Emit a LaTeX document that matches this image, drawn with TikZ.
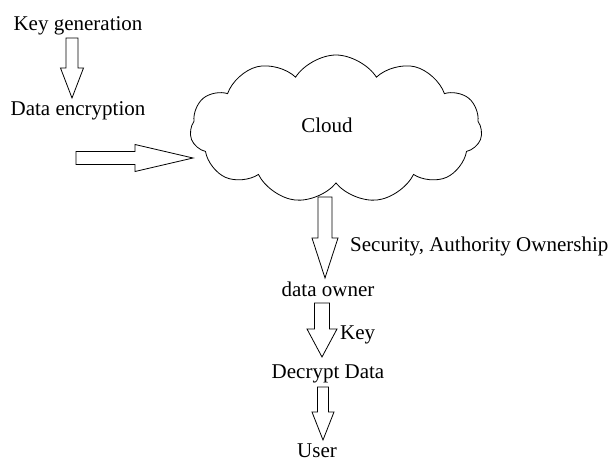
\documentclass[tikz,border=0pt]{standalone}
\usepackage{fontspec}
\setmainfont{Liberation Serif}
\usetikzlibrary{shapes.symbols,calc}

% hollow block arrow pointing down: top, tip, shaft half width, head half width, head length
\newcommand{\blkdown}[5]{%
  \draw[blkarrow] ($(#1)+(-#3,0)$) -- ($(#2)+(-#3,-#5)$) -- ($(#2)+(-#4,-#5)$) -- (#2)
    -- ($(#2)+(#4,-#5)$) -- ($(#2)+(#3,-#5)$) -- ($(#1)+(#3,0)$) -- cycle;}
% hollow block arrow pointing right: start, tip, shaft half width, head half width, head length
\newcommand{\blkright}[5]{%
  \draw[blkarrow] ($(#1)+(0,-#3)$) -- ($(#2)+(-#5,-#3)$) -- ($(#2)+(-#5,-#4)$) -- (#2)
    -- ($(#2)+(-#5,#4)$) -- ($(#2)+(-#5,#3)$) -- ($(#1)+(0,#3)$) -- cycle;}

\begin{document}
\begin{tikzpicture}[x=1pt,y=-1pt]
\tikzset{
  every node/.style={inner sep=0pt,font=\fontsize{21}{25}\selectfont},
  blkarrow/.style={draw=black,line width=0.8pt,line join=miter},
  cloudbox/.style={cloud,draw=black,line width=0.8pt,cloud puffs=11,cloud puff arc=115,
    aspect=2,minimum width=292pt,minimum height=148pt}
}
\useasboundingbox (0,0) rectangle (616,461);
% texts
\node[anchor=base] (keygen) at (78,30) {Key generation};
\node[anchor=base] (encrypt) at (78,115) {Data encryption};
\node[cloudbox] (cloud) at (336,129) {};
\node[anchor=base] (cloudtext) at (327,132) {Cloud};
\node[anchor=base west] (security) at (350,251) {Security, Authority Ownership};
\node[anchor=base] (owner) at (328,296) {data owner};
\node[anchor=base west] (key) at (340,339) {Key};
\node[anchor=base] (decrypt) at (328,378) {Decrypt Data};
\node[anchor=base] (user) at (317,457) {User};
% arrow ends
\coordinate (keygentop) at (72,38);
\coordinate (encrypttip) at (72,98);
\coordinate (sendstart) at (76,158);
\coordinate (cloudtip) at (193,158);
\coordinate (cloudtop) at (325,197);
\coordinate (ownertip) at (325,278);
\coordinate (ownertop) at (322,303);
\coordinate (decrypttip) at (322,357);
\coordinate (decrypttop) at (323,387);
\coordinate (usertip) at (323,440);
% arrows
\blkdown{keygentop}{encrypttip}{6}{11.5}{30}
\blkright{sendstart}{cloudtip}{6.5}{13.5}{58}
\blkdown{cloudtop}{ownertip}{7}{13}{40}
\blkdown{ownertop}{decrypttip}{7.5}{15}{28}
\blkdown{decrypttop}{usertip}{5.5}{11}{28}
\end{tikzpicture}
\end{document}
